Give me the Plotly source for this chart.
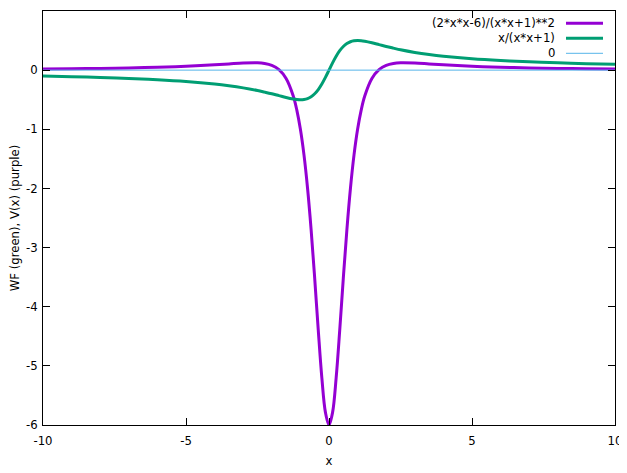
import plotly.graph_objects as go

# sample points
x_vals = [-10, -9, -8, -7, -6, -5, -4, -3.5, -3, -2.5, -2.25, -2, -1.75, -1.5, -1.25,
          -1.125, -1, -0.875, -0.75, -0.625, -0.5, -0.375, -0.25, -0.125, 0,
          0.125, 0.25, 0.375, 0.5, 0.625, 0.75, 0.875, 1, 1.125, 1.25,
          1.5, 1.75, 2, 2.25, 2.5, 3, 3.5, 4, 5, 6, 7, 8, 9, 10]

v_vals = [0.019, 0.023, 0.029, 0.037, 0.048, 0.065, 0.090, 0.105, 0.120, 0.124, 0.112,
          0.080, 0.008, -0.142, -0.438, -0.676, -1.0, -1.433, -1.997, -2.699, -3.52,
          -4.396, -5.204, -5.787, -6.0,
          -5.787, -5.204, -4.396, -3.52, -2.699, -1.997, -1.433, -1.0, -0.676, -0.438,
          -0.142, 0.008, 0.080, 0.112, 0.124, 0.120, 0.105, 0.090, 0.065, 0.048,
          0.037, 0.029, 0.023, 0.019]

wf_vals = [-0.099, -0.110, -0.123, -0.140, -0.162, -0.192, -0.235, -0.264, -0.300, -0.345,
           -0.372, -0.400, -0.431, -0.462, -0.488, -0.497, -0.500, -0.496, -0.480,
           -0.449, -0.400, -0.329, -0.235, -0.123, 0.0,
           0.123, 0.235, 0.329, 0.400, 0.449, 0.480, 0.496, 0.500, 0.497, 0.488,
           0.462, 0.431, 0.400, 0.372, 0.345, 0.300, 0.264, 0.235, 0.192, 0.162,
           0.140, 0.123, 0.110, 0.099]

zero_x = [-10, 10]
zero_y = [0, 0]

x_ticks = [-10, -5, 0, 5, 10]
x_ticktext = ['-10', '-5', '0', '5', '10']
y_ticks = [1, 0, -1, -2, -3, -4, -5, -6]
y_ticktext = ['1', '0', '-1', '-2', '-3', '-4', '-5', '-6']

names = ['(2*x*x-6)/(x*x+1)**2', 'x/(x*x+1)', '0']
colors = ['#9400d3', '#009e73', '#56b4e9']
widths = [3, 3, 1]

font = dict(family='DejaVu Sans', size=11.7, color='black')

fig = go.Figure()
fig.add_trace(go.Scatter(x=x_vals, y=v_vals, mode='lines', name=names[0],
                         line=dict(color=colors[0], width=widths[0], shape='spline')))
fig.add_trace(go.Scatter(x=x_vals, y=wf_vals, mode='lines', name=names[1],
                         line=dict(color=colors[1], width=widths[1], shape='spline')))
fig.add_trace(go.Scatter(x=zero_x, y=zero_y, mode='lines', name=names[2],
                         line=dict(color=colors[2], width=widths[2])))

# the page body adds an 8px margin, so the figure is shifted by that much
OFF = 8
W, H = 627 - OFF, 473 - OFF
ml, mr, mt, mb = 43 - OFF, 12, 11 - OFF, 48
pw, ph = W - ml - mr, H - mt - mb
def px(x): return (x - OFF - ml) / pw
def py(y): return 1 - (y - OFF - mt) / ph

# gnuplot-style key: text right-aligned, sample line on its right
rows = [23.3, 38.3, 53.3]
for name, col, w, ry in zip(names, colors, widths, rows):
    fig.add_annotation(x=px(557), y=py(ry), xref='paper', yref='paper', text=name,
                       showarrow=False, xanchor='right', yanchor='middle', font=font)
    fig.add_shape(type='line', xref='paper', yref='paper', x0=px(566), x1=px(603),
                  y0=py(ry), y1=py(ry), line=dict(color=col, width=w))

axis = dict(showgrid=False, zeroline=False, showline=True, linecolor='black', linewidth=1,
            mirror='ticks', ticks='inside', ticklen=7, tickcolor='black',
            tickfont=font, automargin=False)

fig.update_layout(
    width=W, height=H, showlegend=False,
    paper_bgcolor='white', plot_bgcolor='white',
    margin=dict(l=ml, r=mr, t=mt, b=mb),
    font=font,
    xaxis=dict(axis, range=[-10, 10], tickvals=x_ticks, ticktext=x_ticktext,
               ticklabelstandoff=5, title=dict(text='x', font=font, standoff=9)),
    yaxis=dict(axis, range=[-6, 1], tickvals=y_ticks, ticktext=y_ticktext,
               ticklabelstandoff=2,
               title=dict(text='WF (green), V(x) (purple)', font=font, standoff=8)),
)

fig.write_html('out.html')
